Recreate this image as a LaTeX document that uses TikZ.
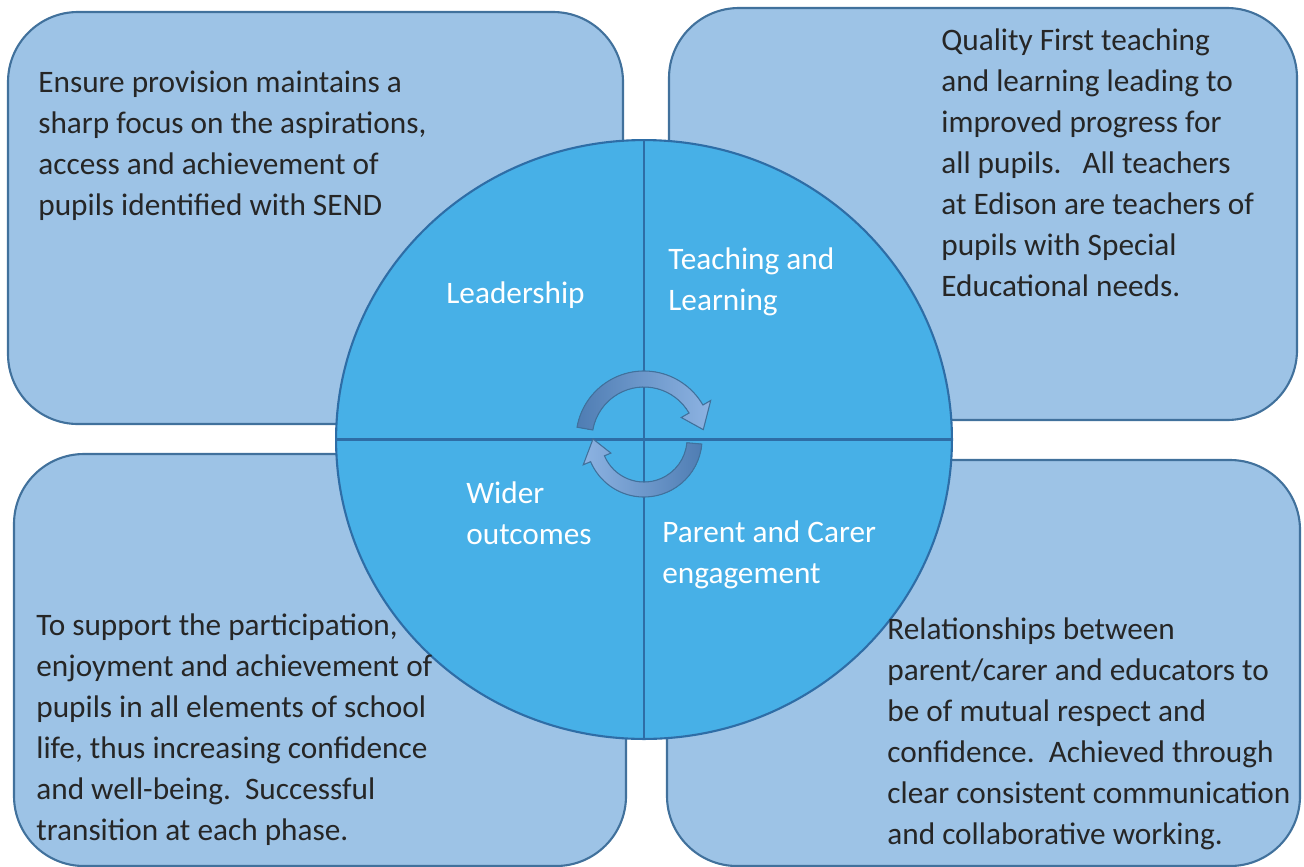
\documentclass[tikz,border=0pt]{standalone}
\usepackage{fontspec}
\setmainfont{Carlito}
\usetikzlibrary{shapes.geometric}

\definecolor{panelfill}{HTML}{9DC3E6}
\definecolor{paneledge}{HTML}{41719C}
\definecolor{hubfill}{HTML}{47B0E7}
\definecolor{hubedge}{HTML}{2E6DA6}
\definecolor{arrowdark}{HTML}{4F7DB3}
\definecolor{arrowlight}{HTML}{8DB3E2}

\tikzset{
  panel/.style={fill=panelfill,draw=paneledge,line width=1.2pt,rounded corners=1.4cm},
  blurb/.style={anchor=base west,align=left,inner sep=0pt,
    font=\fontsize{17.8}{23.3}\selectfont,text=black!85},
  strand/.style={blurb,text=white,font=\fontsize{17.8}{22.8}\selectfont},
  turn/.style={draw=paneledge,line width=0.6pt}
}

\begin{document}
\begin{tikzpicture}[x=0.02cm,y=-0.02cm]
\useasboundingbox (0,0) rectangle (1304,866);
% four outer panels
\draw[panel] (8,12) rectangle (623,424);
\draw[panel] (669,8) rectangle (1297,420);
\draw[panel] (14,454) rectangle (626,866);
\draw[panel] (667,460) rectangle (1300,866);

% central wheel
\node[ellipse,fill=hubfill,draw=hubedge,line width=1.2pt,
  minimum width=12.32cm,minimum height=11.98cm,inner sep=0pt] (hub) at (644,439.5) {};
\draw[hubedge,line width=1.3pt] (hub.north) -- (hub.south);
\draw[hubedge,line width=1.3pt] (hub.west) -- (hub.east);

% cycle arrows
\begin{scope}[shift={(644,439)},y=0.02cm]
\fill[turn,left color=arrowdark,right color=arrowlight]
  (170:68) arc[start angle=170,end angle=30,radius=68]
  -- (30:77) -- (9:60) -- (30:43) -- (30:52)
  arc[start angle=30,end angle=170,radius=52] -- cycle;
\fill[turn,right color=arrowdark,left color=arrowlight]
  (-5:58) arc[start angle=-5,end angle=-157,radius=58]
  -- (-157:66) -- (-180:51) -- (-157:36) -- (-157:43)
  arc[start angle=-157,end angle=-5,radius=43] -- cycle;
\end{scope}

% strand labels (placed at the baseline of their last line)
\node[strand] (lead) at (446,303) {Leadership};
\node[strand] (teach) at (668,310) {Teaching and\\Learning};
\node[strand] (wider) at (466,544) {Wider\\outcomes};
\node[strand] (parent) at (662,583) {Parent and Carer\\engagement};

% panel texts
\node[blurb] (aim) at (38,215) {Ensure provision maintains a\\sharp focus on the aspirations,\\access and achievement of\\pupils identified with SEND};
\node[blurb] (quality) at (941,296) {Quality First teaching\\and learning leading to\\improved progress for\\all pupils.\ \ \ All teachers\\at Edison are teachers of\\pupils with Special\\Educational needs.};
\node[blurb] (support) at (36,840) {To support the participation,\\enjoyment and achievement of\\pupils in all elements of school\\life, thus increasing confidence\\and well-being.\ \ Successful\\transition at each phase.};
\node[blurb] (relate) at (887,844) {Relationships between\\parent/carer and educators to\\be of mutual respect and\\confidence.\ \ Achieved through\\clear consistent communication\\and collaborative working.};
\end{tikzpicture}
\end{document}
